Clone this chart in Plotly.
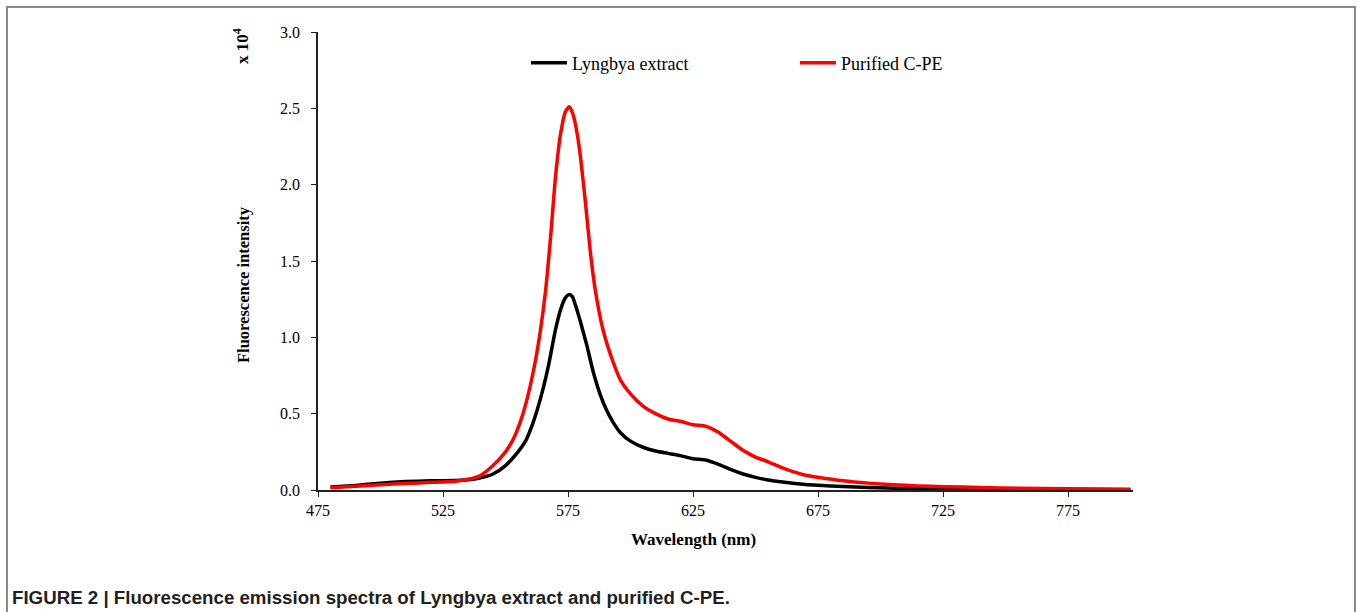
import plotly.graph_objects as go

# ---------------- data ----------------
wl_black = [480, 490, 500, 510, 520, 530, 535, 540, 545, 550, 555, 558, 561, 564, 567,
            570, 572, 574, 575.5, 576.8, 578, 580, 582.5, 585, 588, 590.5, 593, 596, 600,
            605, 610, 615, 620, 625, 630, 635, 640, 645, 650, 655, 660, 665, 670, 675,
            685, 695, 710, 725, 750, 775, 800]
lyngbya = [0.02, 0.03, 0.045, 0.055, 0.06, 0.063, 0.067, 0.08, 0.105, 0.16, 0.25, 0.32,
           0.44, 0.60, 0.80, 1.05, 1.18, 1.26, 1.28, 1.265, 1.21, 1.10, 0.95, 0.78, 0.62,
           0.52, 0.445, 0.375, 0.32, 0.28, 0.255, 0.24, 0.225, 0.205, 0.197, 0.17, 0.135,
           0.105, 0.083, 0.066, 0.054, 0.044, 0.036, 0.031, 0.023, 0.016, 0.010, 0.007,
           0.004, 0.003, 0.002]

wl_red = [480, 490, 500, 510, 520, 530, 535, 540, 545, 550, 553, 556, 559, 562, 564, 566,
          568, 570, 572, 574, 575.5, 577, 578.5, 580, 582, 584, 586, 589, 593, 596, 600,
          605, 610, 615, 620, 625, 630, 635, 640, 645, 650, 655, 660, 665, 670, 675, 685,
          695, 705, 715, 725, 740, 755, 775, 800]
cpe = [0.015, 0.025, 0.035, 0.043, 0.05, 0.058, 0.07, 0.095, 0.16, 0.25, 0.33, 0.45,
       0.62, 0.85, 1.05, 1.30, 1.65, 2.05, 2.33, 2.48, 2.51, 2.46, 2.35, 2.18, 1.88, 1.55,
       1.30, 1.05, 0.84, 0.72, 0.63, 0.55, 0.50, 0.465, 0.45, 0.427, 0.418, 0.38, 0.32,
       0.26, 0.215, 0.185, 0.15, 0.12, 0.097, 0.083, 0.06, 0.045, 0.035, 0.027, 0.022,
       0.016, 0.011, 0.008, 0.005]

x_ticks = [475, 525, 575, 625, 675, 725, 775]
y_ticks = [0.0, 0.5, 1.0, 1.5, 2.0, 2.5, 3.0]
y_ticklabels = ["0.0", "0.5", "1.0", "1.5", "2.0", "2.5", "3.0"]

# ---------------- layout geometry ----------------
W, H = 1358, 612
L, R, T, B = 318, 225, 32, 122
PW, PH = W - L - R, H - T - B


def px(x):
    return (x - L) / PW


def py(y):
    return (H - B - y) / PH


serif = "Liberation Serif, Times New Roman, serif"

fig = go.Figure()
fig.add_trace(go.Scatter(x=wl_black, y=lyngbya, mode="lines", name="Lyngbya extract",
                         line=dict(color="#000000", width=3.5, shape="spline", smoothing=0.6)))
fig.add_trace(go.Scatter(x=wl_red, y=cpe, mode="lines", name="Purified C-PE",
                         line=dict(color="#ff0000", width=3.5, shape="spline", smoothing=0.6)))

fig.update_layout(
    width=W, height=H,
    margin=dict(l=L, r=R, t=T, b=B, autoexpand=False),
    paper_bgcolor="white", plot_bgcolor="white",
    font=dict(family=serif, size=16, color="black"),
    showlegend=True,
    legend=dict(orientation="h", x=px(526), y=py(63), xanchor="left", yanchor="middle",
                entrywidth=218, entrywidthmode="pixels", bgcolor="rgba(0,0,0,0)",
                font=dict(family=serif, size=18, color="black"), itemwidth=36),
    xaxis=dict(range=[475, 801], tickmode="array", tickvals=x_ticks,
               showgrid=False, zeroline=False, showline=True, linecolor="#222",
               linewidth=1.5, ticks="outside", ticklen=5, tickcolor="#222",
               tickfont=dict(family=serif, size=16)),
    yaxis=dict(range=[0, 3.0], tickmode="array", tickvals=y_ticks, ticktext=y_ticklabels,
               showgrid=False, zeroline=False, showline=True, linecolor="#222",
               linewidth=1.5, ticks="outside", ticklen=5, tickcolor="#222",
               ticklabelstandoff=8, tickfont=dict(family=serif, size=16)),
)

annotations = [
    dict(text="<b>Fluorescence intensity</b>", x=px(243), y=py(285), textangle=-90,
         font=dict(family=serif, size=16.5)),
    dict(text="<b>x 10<sup>4</sup></b>", x=px(241), y=py(46), textangle=-90,
         font=dict(family=serif, size=17)),
    dict(text="<b>Wavelength (nm)</b>", x=px(693), y=py(539),
         font=dict(family=serif, size=17)),
    dict(text="<b>FIGURE 2 | Fluorescence emission spectra of Lyngbya extract and purified C-PE.</b>",
         x=px(10), y=py(597), xanchor="left",
         font=dict(family="Liberation Sans, Arial, sans-serif", size=18.7, color="#231f20")),
]
for a in annotations:
    a.setdefault("xanchor", "center")
    a.update(xref="paper", yref="paper", yanchor="middle", showarrow=False)
fig.update_layout(annotations=annotations)

# outer frame (left, top, right sides)
fig.add_shape(type="path", xref="paper", yref="paper",
              path=f"M {px(7)} {py(612)} L {px(7)} {py(7)} L {px(1355)} {py(7)} L {px(1355)} {py(612)}",
              line=dict(color="#8a8a8a", width=2))

fig.write_html("out.html", config={"displayModeBar": False},
               post_script="document.body.style.margin='0';document.body.style.overflow='hidden';")
